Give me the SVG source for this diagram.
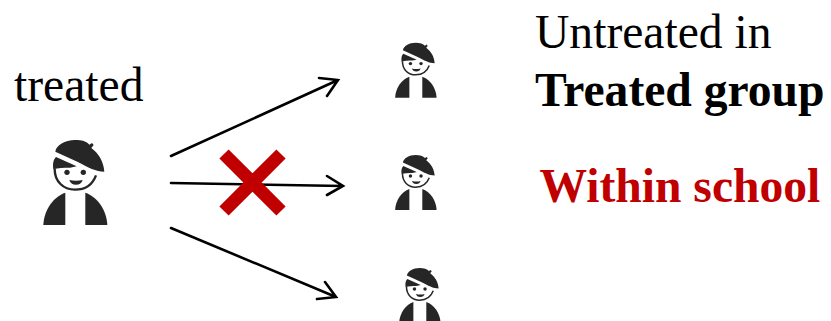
<svg xmlns="http://www.w3.org/2000/svg" xmlns:xlink="http://www.w3.org/1999/xlink" width="831" height="321" viewBox="0 0 831 321">
<style>
text{font-family:"Liberation Serif","Times New Roman",serif;font-size:47.6px;fill:#000}
.b{font-weight:700}
.red{fill:#c00000;font-weight:700}
.ln{fill:none;stroke:#000;stroke-width:2.6;stroke-linecap:round;stroke-linejoin:miter}
.x{fill:none;stroke:#c00000;stroke-width:13}
.k{fill:#262626}
.soft{filter:url(#soft)}
</style>
<defs>
<filter id="soft" x="-5%" y="-5%" width="110%" height="110%"><feGaussianBlur stdDeviation="0.5"/></filter>
<symbol id="person" overflow="visible" viewBox="0 0 330 360" width="330" height="360">
<path class="k" d="M106 95C108 76 135 60 165 60C185 60 200 64 208 74L216 69L221 75L214 84C236 100 251 125 253 155C228 155 205 142 172 125Z"/>
<path class="k" d="M100 148C97 130 101 118 108 111L170 139L150 143C130 143 115 144 100 148Z"/>
<path fill="none" stroke="#262626" stroke-width="7" d="M104 146C104 185 130 209 165 209C195 209 218 193 228 166"/>
<circle class="k" cx="141" cy="157" r="8"/><circle class="k" cx="190" cy="157" r="8"/>
<path class="k" d="M148 180Q168 185 188 180Q184 194 168 194Q152 194 148 180Z"/>
<path class="k" d="M70 315C72 270 100 230 136 218V315Z"/>
<path class="k" d="M196 218C232 230 260 270 262 315H196Z"/>
</symbol>
</defs>
<g id="connectors">
<path class="ln" d="M171 156L338 80M319 78L338 80L327 96"/>
<path class="ln" d="M171 183L343 186M327 176L343 186L327 195"/>
<path class="ln" d="M171 228L336 297M325 282L336 297L317 299"/>
</g>
<g id="cross"><path class="x" d="M224 154L281 211M281 154L224 211"/></g>
<g id="treated-person" class="soft"><use xlink:href="#person" href="#person" transform="translate(20 120) scale(.3333)"/></g>
<g id="person-top" class="soft"><use xlink:href="#person" href="#person" transform="translate(380 29.7) scale(.216)"/></g>
<g id="person-middle" class="soft"><use xlink:href="#person" href="#person" transform="translate(380 142) scale(.216)"/></g>
<g id="person-bottom" class="soft"><use xlink:href="#person" href="#person" transform="translate(384 255) scale(.216)"/></g>
<g id="label-treated"><text x="14" y="100.5">treated</text></g>
<g id="label-untreated"><text x="535" y="47.5">Untreated in</text><text class="b" x="535" y="106">Treated group</text></g>
<g id="label-within"><text class="red" x="539.5" y="201.5">Within school</text></g>
</svg>
